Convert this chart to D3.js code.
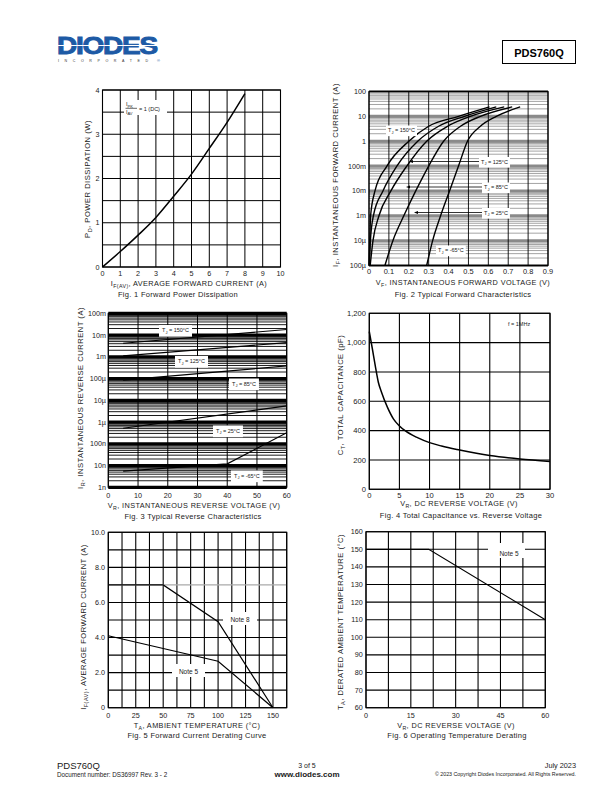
<!DOCTYPE html>
<html><head><meta charset="utf-8">
<script src="https://cdn.jsdelivr.net/npm/d3@7"></script>
<style>
body{margin:0;background:#fff}
text{font-family:"Liberation Sans",Arial,Helvetica,sans-serif}
</style></head>
<body><svg id="c" width="612" height="792"></svg>
<script>
// ---------------- DATA ----------------
// Fig 1: Forward power dissipation
const fig1Current = [0, 1, 2, 3, 4, 5, 6, 7, 8];
const fig1Power   = [0, 0.35, 0.72, 1.12, 1.6, 2.1, 2.68, 3.27, 3.92];
const fig1XTicks = [0,1,2,3,4,5,6,7,8,9,10];
const fig1YTicks = [0,1,2,3,4];

// Fig 2: Typical forward characteristics (I in A, positions per printed grid)
const fig2Current = [1e-5, 1e-4, 1e-3, 1e-2, 1e-1, 1, 4, 10, 24];
const fig2V150  = [0.000, 0.004, 0.008, 0.030, 0.090, 0.200, 0.300, 0.450, 0.606];
const fig2V125  = [0.003, 0.007, 0.022, 0.070, 0.140, 0.245, 0.350, 0.480, 0.640];
const fig2V85   = [0.006, 0.020, 0.050, 0.110, 0.190, 0.290, 0.395, 0.510, 0.680];
const fig2V25   = [0.080, 0.120, 0.175, 0.235, 0.300, 0.375, 0.460, 0.560, 0.720];
const fig2Vm65  = [0.290, 0.320, 0.360, 0.405, 0.450, 0.495, 0.560, 0.640, 0.760];
const fig2XTicks = [0,0.1,0.2,0.3,0.4,0.5,0.6,0.7,0.8,0.9];
const fig2YTickVals = [1e2,1e1,1,1e-1,1e-2,1e-3,1e-4,1e-5];
const fig2YTickLabels = ["100","10","1","100m","10m","1m","10\u00b5","100\u00b5"];

// Fig 3: Typical reverse characteristics
const fig3V150 = [5, 60], fig3I150 = [4.2e-3, 1.8e-2];
const fig3V125 = [5, 60], fig3I125 = [1.1e-3, 4.5e-3];
const fig3V85  = [5, 60], fig3I85  = [8.5e-5, 3.8e-4];
const fig3V25  = [5, 60], fig3I25  = [5.2e-7, 5.5e-6];
const fig3Vm65 = [5, 40, 60], fig3Im65 = [5.5e-9, 1.2e-8, 3.2e-7];
const fig3XTicks = [0,10,20,30,40,50,60];
const fig3YTickVals = [1e-1,1e-2,1e-3,1e-4,1e-5,1e-6,1e-7,1e-8,1e-9];
const fig3YTickLabels = ["100m","10m","1m","100\u00b5","10\u00b5","1\u00b5","100n","10n","1n"];

// Fig 4: Total capacitance vs reverse voltage
const fig4V = [0, 0.5, 1, 1.5, 2, 3, 4, 5, 6, 8, 10, 12, 15, 20, 25, 30];
const fig4C = [1075, 960, 840, 730, 665, 560, 480, 432, 398, 352, 318, 295, 268, 230, 206, 190];
const fig4XTicks = [0,5,10,15,20,25,30];
const fig4YTicks = [0,200,400,600,800,1000,1200];

// Fig 5: Forward current derating
const fig5TNote8 = [0, 50, 100, 150], fig5INote8 = [7.0, 7.0, 4.9, 0];
const fig5TNote5 = [0, 100, 150],     fig5INote5 = [4.1, 2.65, 0];
const fig5XTicks = [0,25,50,75,100,125,150];
const fig5YTicks = [0,2,4,6,8,10];
const fig5YTickLabels = ["0","2.0","4.0","6.0","8.0","10.0"];

// Fig 6: Operating temperature derating
const fig6V = [0, 21, 60], fig6T = [150, 150, 110];
const fig6XTicks = [0,15,30,45,60];
const fig6YTicks = [60,70,80,90,100,110,120,130,140,150,160];

// ---------------- HELPERS ----------------
const svg = d3.select("#c");
const INK = "#1a1a1a";

function rich(g, x, y, parts, size, anchor, weight, rotate, ls) {
  const t = g.append("text").attr("font-size", size).attr("fill", INK)
    .attr("text-anchor", anchor || "start").attr("font-weight", weight || "normal");
  if (ls) t.style("letter-spacing", ls + "px");
  if (rotate) t.attr("transform", `translate(${x},${y}) rotate(${rotate})`);
  else t.attr("x", x).attr("y", y);
  let shifted = false;
  parts.forEach(p => {
    const s = t.append("tspan").text(p[0]);
    if (p[1] === "sub") {
      s.attr("font-size", size * 0.72).attr("dy", shifted ? 0 : size * 0.3);
      shifted = true;
    } else if (shifted) { s.attr("dy", -size * 0.3); shifted = false; }
  });
  return t;
}
const xTitle = (g, x, y, parts) => rich(g, x, y, parts, 7.3, "middle", null, null, 0.4);
const caption = (g, x, y, txt) => rich(g, x, y, [[txt]], 7.5, "middle", null, null, 0.3);
const yTitle = (g, x, y, parts) => rich(g, x, y, parts, 7.6, "middle", null, -90, 0.5);

function boxed(g, x, y, parts, size, anchor, pad) {
  const bg = g.append("rect").attr("fill", "#fff");
  const t = rich(g, x, y, parts, size, anchor);
  const b = t.node().getBBox();
  const p = pad || [3, 1.5];
  bg.attr("x", b.x - p[0]).attr("y", b.y - p[1]).attr("width", b.width + 2 * p[0]).attr("height", b.height + 2 * p[1]);
  return b;
}
function frame(g, x, y) {
  g.append("rect").attr("x", x.range()[0]).attr("y", y.range()[1])
    .attr("width", x.range()[1] - x.range()[0]).attr("height", y.range()[0] - y.range()[1])
    .attr("fill", "none").attr("stroke", "#000").attr("stroke-width", 1.1);
}
function vgrid(g, x, y, vals, color, w) {
  g.selectAll(null).data(vals).join("line")
    .attr("x1", d => x(d)).attr("x2", d => x(d)).attr("y1", y.range()[0]).attr("y2", y.range()[1])
    .attr("stroke", color || "#000").attr("stroke-width", w || 1);
}
function hgrid(g, x, y, vals, color, w) {
  g.selectAll(null).data(vals).join("line")
    .attr("y1", d => y(d)).attr("y2", d => y(d)).attr("x1", x.range()[0]).attr("x2", x.range()[1])
    .attr("stroke", color || "#000").attr("stroke-width", w || 1);
}
function xTickLabels(g, x, vals, yPos, fmt, size) {
  g.selectAll(null).data(vals).join("text")
    .attr("x", d => x(d)).attr("y", yPos).attr("text-anchor", "middle")
    .attr("font-size", size || 7.2).attr("fill", INK).text((d, i) => fmt ? fmt(d, i) : d);
}
function yTickLabels(g, y, vals, xPos, fmt, size) {
  g.selectAll(null).data(vals).join("text")
    .attr("x", xPos).attr("y", d => y(d)).attr("dy", "0.35em").attr("text-anchor", "end")
    .attr("font-size", size || 7.2).attr("fill", INK).text((d, i) => fmt ? fmt(d, i) : d);
}
function curve(g, x, y, xs, ys, w, c, curveType) {
  const pts = xs.map((v, i) => [v, ys[i]]);
  g.append("path").datum(pts)
    .attr("d", d3.line().x(d => x(d[0])).y(d => y(d[1])).curve(curveType || d3.curveLinear))
    .attr("fill", "none").attr("stroke", c || "#000").attr("stroke-width", w || 1.4);
}
function logGrid(g, x, y, lo, hi, minorColor, majorColor, majorW) {
  const minors = [], majors = [];
  for (let e = lo; e < hi; e++) {
    majors.push(Math.pow(10, e));
    for (let m = 2; m <= 9; m++) minors.push(m * Math.pow(10, e));
  }
  majors.push(Math.pow(10, hi));
  hgrid(g, x, y, minors, minorColor, 0.9);
  hgrid(g, x, y, majors, majorColor, majorW);
}

// ---------------- HEADER ----------------
const hdr = svg.append("g");
hdr.append("text").attr("x", 57).attr("y", 53.5).attr("font-size", 23).attr("font-weight", 900)
  .attr("fill", "#1d5aa5").attr("stroke", "#1d5aa5").attr("stroke-width", 0.9)
  .attr("textLength", 100).attr("lengthAdjust", "spacingAndGlyphs")
  .style("letter-spacing", "-1px").text("DIODES");
hdr.append("line").attr("x1", 56).attr("x2", 160).attr("y1", 45.5).attr("y2", 45.5)
  .attr("stroke", "#fff").attr("stroke-width", 1.1);
hdr.append("text").attr("x", 157).attr("y", 62).attr("font-size", 4).attr("fill", "#1d5aa5").text("\u00ae");
hdr.append("text").attr("x", 58).attr("y", 62).attr("font-size", 3.6).attr("fill", "#333")
  .attr("textLength", 90).attr("lengthAdjust", "spacing").text("INCORPORATED");
hdr.append("rect").attr("x", 502.5).attr("y", 40.5).attr("width", 73).attr("height", 23)
  .attr("fill", "none").attr("stroke", "#000").attr("stroke-width", 1);
hdr.append("text").attr("x", 539).attr("y", 56.5).attr("text-anchor", "middle").attr("font-size", 11)
  .attr("font-weight", "bold").attr("fill", "#000").text("PDS760Q");

// ---------------- FIG 1 ----------------
{
  const g = svg.append("g");
  const x = d3.scaleLinear().domain([0, 10]).range([102.5, 280.5]);
  const y = d3.scaleLinear().domain([0, 4]).range([267, 90]);
  vgrid(g, x, y, fig1XTicks);
  hgrid(g, x, y, d3.range(0, 4.01, 0.5));
  frame(g, x, y);
  curve(g, x, y, fig1Current, fig1Power, 1.5, "#000", d3.curveMonotoneX);
  g.append("rect").attr("x", 124).attr("y", 100).attr("width", 43).attr("height", 15).attr("fill", "#fff");
  rich(g, 126, 106, [["I"], ["PK", "sub"]], 5.5);
  g.append("line").attr("x1", 125.5).attr("x2", 137).attr("y1", 108.3).attr("y2", 108.3).attr("stroke", "#000").attr("stroke-width", 0.6);
  rich(g, 126, 113.5, [["I"], ["AV", "sub"]], 5.5);
  rich(g, 139, 110.5, [["= 1 (DC)"]], 5.5);
  xTickLabels(g, x, fig1XTicks, 275.5);
  yTickLabels(g, y, fig1YTicks, 99.5);
  xTitle(g, 189, 286, [["I"], ["F(AV)", "sub"], [", AVERAGE FORWARD CURRENT (A)"]]);
  caption(g, 178, 296.5, "Fig. 1  Forward Power Dissipation");
  yTitle(g, 90, 179, [["P"], ["D", "sub"], [", POWER DISSIPATION (W)"]]);
}

// ---------------- FIG 2 ----------------
{
  const g = svg.append("g");
  const x = d3.scaleLinear().domain([0, 0.9]).range([369, 548]);
  const y = d3.scaleLog().domain([1e-5, 1e2]).range([265.5, 91.5]);
  logGrid(g, x, y, -5, 2, "#9a9a9a", "#8a8a8a", 3);
  vgrid(g, x, y, fig2XTicks, "#000", 0.9);
  frame(g, x, y);
  const cv = d3.curveMonotoneX;
  [fig2V150, fig2V125, fig2V85, fig2V25, fig2Vm65].forEach(vs => curve(g, x, y, vs, fig2Current, 1.4, "#000", cv));
  boxed(g, 388, 132, [["T"], ["J", "sub"], [" = 150\u00b0C"]], 5.5, "start", [2, 1.5]);
  const arrows = [
    { lx: 481, ly: 161.5, tip: 409, parts: [["T"], ["J", "sub"], [" = 125\u00b0C"]] },
    { lx: 484, ly: 187, tip: 406, parts: [["T"], ["J", "sub"], [" = 85\u00b0C"]] },
    { lx: 484, ly: 212.5, tip: 414, parts: [["T"], ["J", "sub"], [" = 25\u00b0C"]] }
  ];
  arrows.forEach(a => {
    g.append("line").attr("x1", a.tip + 3).attr("x2", a.lx - 2).attr("y1", a.ly).attr("y2", a.ly)
      .attr("stroke", "#000").attr("stroke-width", 0.8);
    g.append("path").attr("d", `M${a.tip},${a.ly} l4,-1.6 l0,3.2 z`).attr("fill", "#000");
    boxed(g, a.lx, a.ly + 2, a.parts, 5.5, "start", [2, 1.5]);
  });
  boxed(g, 438, 252, [["T"], ["J", "sub"], [" = -65\u00b0C"]], 5.5, "start", [2, 1.5]);
  xTickLabels(g, x, fig2XTicks, 274, d => d === 0 ? "0" : d3.format(".1f")(d), 7.4);
  yTickLabels(g, y, fig2YTickVals, 366, (d, i) => fig2YTickLabels[i]);
  xTitle(g, 463, 284.5, [["V"], ["F", "sub"], [", INSTANTANEOUS FORWARD VOLTAGE (V)"]]);
  caption(g, 463, 296.5, "Fig. 2 Typical Forward Characteristics");
  yTitle(g, 337.5, 175, [["I"], ["F", "sub"], [", INSTANTANEOUS FORWARD CURRENT (A)"]]);
}

// ---------------- FIG 3 ----------------
{
  const g = svg.append("g");
  const x = d3.scaleLinear().domain([0, 60]).range([108.3, 286.7]);
  const y = d3.scaleLog().domain([1e-9, 1e-1]).range([487.3, 313.3]);
  logGrid(g, x, y, -9, -1, "#000", "#000", 3.2);
  vgrid(g, x, y, fig3XTicks, "#000", 1);
  frame(g, x, y);
  curve(g, x, y, fig3V150, fig3I150, 1.2);
  curve(g, x, y, fig3V125, fig3I125, 1.2);
  curve(g, x, y, fig3V85, fig3I85, 1.2);
  curve(g, x, y, fig3V25, fig3I25, 1.2);
  curve(g, x, y, fig3Vm65, fig3Im65, 1.2);
  boxed(g, 162, 332, [["T"], ["J", "sub"], [" = 150\u00b0C"]], 5.5, "start", [3, 2]);
  boxed(g, 178, 363, [["T"], ["J", "sub"], [" = 125\u00b0C"]], 5.5, "start", [3, 2]);
  boxed(g, 232, 385.5, [["T"], ["J", "sub"], [" = 85\u00b0C"]], 5.5, "start", [3, 2]);
  boxed(g, 216, 432.5, [["T"], ["J", "sub"], [" = 25\u00b0C"]], 5.5, "start", [3, 2]);
  boxed(g, 234, 477.5, [["T"], ["J", "sub"], [" = -65\u00b0C"]], 5.5, "start", [3, 2]);
  xTickLabels(g, x, fig3XTicks, 497.5);
  yTickLabels(g, y, fig3YTickVals, 106, (d, i) => fig3YTickLabels[i]);
  xTitle(g, 194, 508, [["V"], ["R", "sub"], [", INSTANTANEOUS REVERSE VOLTAGE (V)"]]);
  caption(g, 193, 519, "Fig. 3 Typical Reverse Characteristics");
  yTitle(g, 82.5, 398, [["I"], ["R", "sub"], [", INSTANTANEOUS REVERSE CURRENT (A)"]]);
}

// ---------------- FIG 4 ----------------
{
  const g = svg.append("g");
  const x = d3.scaleLinear().domain([0, 30]).range([369.3, 550]);
  const y = d3.scaleLinear().domain([0, 1200]).range([489.3, 313.3]);
  vgrid(g, x, y, fig4XTicks, "#000", 1.1);
  hgrid(g, x, y, fig4YTicks, "#000", 1.1);
  frame(g, x, y);
  curve(g, x, y, fig4V, fig4C, 1.5, "#000", d3.curveMonotoneX);
  rich(g, 508, 326, [["f = 1MHz"]], 5.5);
  xTickLabels(g, x, fig4XTicks, 497.5, null, 7.6);
  yTickLabels(g, y, fig4YTicks, 366, d => d3.format(",")(d), 7.6);
  xTitle(g, 459, 506, [["V"], ["R", "sub"], [", DC REVERSE VOLTAGE (V)"]]);
  caption(g, 461, 518, "Fig. 4  Total Capacitance vs. Reverse Voltage");
  yTitle(g, 343, 395, [["C"], ["T", "sub"], [", TOTAL CAPACITANCE (pF)"]]);
}

// ---------------- FIG 5 ----------------
{
  const g = svg.append("g");
  const x = d3.scaleLinear().domain([0, 162.5]).range([108.3, 286.7]);
  const y = d3.scaleLinear().domain([0, 10]).range([707.7, 532.3]);
  vgrid(g, x, y, d3.range(0, 162.6, 12.5), "#000", 1.1);
  hgrid(g, x, y, [0, 1, 2, 3, 4, 5, 6, 8, 9, 10], "#000", 1.1);
  hgrid(g, x, y, [7], "#aaa", 1.3);
  frame(g, x, y);
  curve(g, x, y, fig5TNote8, fig5INote8, 1.2);
  curve(g, x, y, fig5TNote5, fig5INote5, 1.2);
  g.append("rect").attr("x", 223).attr("y", 612).attr("width", 34).attr("height", 13).attr("fill", "#fff");
  rich(g, 240, 621.5, [["Note 8"]], 6.5, "middle");
  g.append("rect").attr("x", 172).attr("y", 664).attr("width", 33).attr("height", 13).attr("fill", "#fff");
  rich(g, 188.5, 673.5, [["Note 5"]], 6.5, "middle");
  xTickLabels(g, x, fig5XTicks, 717.5);
  yTickLabels(g, y, fig5YTicks, 105, (d, i) => fig5YTickLabels[i]);
  xTitle(g, 197, 728, [["T"], ["A", "sub"], [", AMBIENT TEMPERATURE (\u00b0C)"]]);
  caption(g, 197, 737.5, "Fig. 5 Forward Current Derating Curve");
  yTitle(g, 86, 627, [["I"], ["F(AV)", "sub"], [", AVERAGE FORWARD CURRENT (A)"]]);
}

// ---------------- FIG 6 ----------------
{
  const g = svg.append("g");
  const x = d3.scaleLinear().domain([0, 60]).range([366, 545.3]);
  const y = d3.scaleLinear().domain([60, 160]).range([707.7, 531.7]);
  vgrid(g, x, y, d3.range(0, 60.1, 7.5), "#000", 1.1);
  hgrid(g, x, y, fig6YTicks, "#000", 1.1);
  frame(g, x, y);
  curve(g, x, y, fig6V, fig6T, 1.2);
  g.append("rect").attr("x", 488).attr("y", 543).attr("width", 37).attr("height", 15).attr("fill", "#fff");
  rich(g, 509, 555.5, [["Note 5"]], 6.5, "middle");
  xTickLabels(g, x, fig6XTicks, 717.5);
  yTickLabels(g, y, fig6YTicks, 362.7);
  xTitle(g, 456, 728, [["V"], ["R", "sub"], [", DC REVERSE VOLTAGE (V)"]]);
  caption(g, 457, 737.5, "Fig. 6  Operating Temperature Derating");
  yTitle(g, 343, 622, [["T"], ["A", "sub"], [", DERATED AMBIENT TEMPERATURE (\u00b0C)"]]);
}

// ---------------- FOOTER ----------------
{
  const g = svg.append("g");
  rich(g, 57, 768.5, [["PDS760Q"]], 9.5);
  rich(g, 57, 776.5, [["Document number: DS36997 Rev. 3 - 2"]], 6.3);
  rich(g, 307, 767.5, [["3 of 5"]], 7, "middle");
  rich(g, 307, 776.5, [["www.diodes.com"]], 8, "middle", "bold");
  rich(g, 576, 767.5, [["July 2023"]], 7.3, "end");
  rich(g, 576, 775.5, [["\u00a9 2023 Copyright Diodes Incorporated. All Rights Reserved."]], 5.3, "end");
}
</script></body></html>
